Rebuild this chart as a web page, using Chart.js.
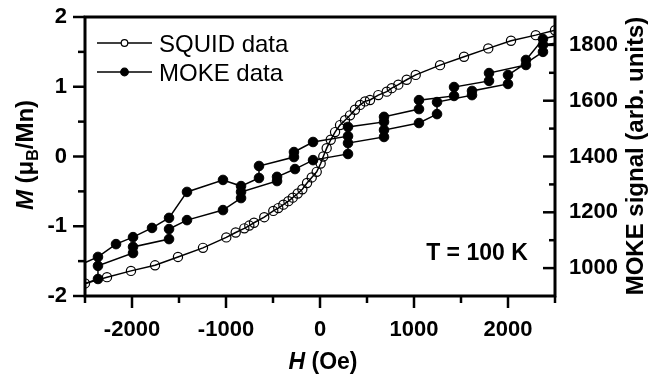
<!DOCTYPE html>
<html>
<head>
<meta charset="utf-8">
<script src="https://cdn.jsdelivr.net/npm/chart.js@4.4.1/dist/chart.umd.min.js"></script>
<style>
  html, body { margin: 0; padding: 0; background: #fff; }
  #wrap { width: 667px; height: 375px; }
</style>
</head>
<body>
<div id="wrap"><canvas id="chart" width="667" height="375"></canvas></div>
<script>
// SQUID magnetisation (left axis, muB/Mn)
const squidH = [-2500, -2266, -2011, -1755, -1511, -1245, -997, -897, -805, -752, -702, -593, -497, -444, -390, -336, -290, -237, -188, -138, -88, -35, 7, 35, 71, 114, 160, 213, 266, 319, 372, 426, 479, 532, 620, 710, 763, 833, 922, 1018, 1277, 1532, 1790, 2032, 2295, 2500];
const squidM = [-1.82, -1.73, -1.64, -1.56, -1.44, -1.31, -1.16, -1.09, -1.03, -0.99, -0.95, -0.87, -0.78, -0.74, -0.69, -0.64, -0.59, -0.53, -0.47, -0.38, -0.30, -0.22, -0.10, 0.00, 0.12, 0.24, 0.35, 0.45, 0.52, 0.59, 0.67, 0.74, 0.79, 0.81, 0.88, 0.93, 0.98, 1.03, 1.10, 1.17, 1.31, 1.43, 1.55, 1.66, 1.74, 1.81];

// MOKE loop (right axis), ascending branch then descending branch
const mokeH = [-2700, -2362, -2362, -1989, -1989, -1606, -1606, -1415, -1032, -840, -840, -457, -457, -266, -74, 298, 298, 681, 681, 1053, 1245, 1245, 1617, 1617, 2000, 2000, 2372, 2372, 2700,
               2700, 2372, 2191, 2191, 1798, 1798, 1426, 1426, 1053, 1053, 681, 681, 298, 298, -74, -277, -277, -649, -649, -840, -1032, -1415, -1606, -1787, -1989, -2170, -2362, -2700];
const mokeSignal = [920, 961, 1008, 1054, 1076, 1104, 1140, 1172, 1208, 1251, 1273, 1312, 1327, 1355, 1387, 1409, 1448, 1470, 1495, 1520, 1552, 1595, 1620, 1635, 1660, 1692, 1775, 1800, 1815,
                    1850, 1821, 1746, 1728, 1699, 1671, 1649, 1617, 1602, 1570, 1542, 1524, 1506, 1473, 1452, 1416, 1398, 1366, 1323, 1294, 1316, 1273, 1180, 1144, 1111, 1086, 1040, 990];

const xTicks = [-2000, -1000, 0, 1000, 2000];
const xMinorTicks = [-2500, -1500, -500, 500, 1500, 2500];
const mTicks = [-2, -1, 0, 1, 2];
const mMinorTicks = [-1.5, -0.5, 0.5, 1.5];
const signalTicks = [1000, 1200, 1400, 1600, 1800];
const signalMinorTicks = [1100, 1300, 1500, 1700];

const FONT = "'Liberation Sans', Arial, sans-serif";
const tickFont = { family: FONT, size: 22, weight: 'bold' };

function drawParts(ctx, parts, cx, baseline) {
  let w = 0;
  parts.forEach(p => { ctx.font = p.font; w += ctx.measureText(p.t).width; });
  let px = cx - w / 2;
  parts.forEach(p => {
    ctx.font = p.font;
    ctx.fillText(p.t, px, baseline + (p.dy || 0));
    px += ctx.measureText(p.t).width;
  });
}

// pin the plot box: no extra room for overflowing labels
function fixBox(size) {
  return s => {
    if (s.isHorizontal()) s.height = size; else s.width = size;
    s.paddingTop = 0; s.paddingBottom = 0; s.paddingLeft = 0; s.paddingRight = 0;
  };
}

const decorations = {
  id: 'decorations',
  afterDatasetsDraw(chart) {
    const { ctx, chartArea: a } = chart;
    const { x, y, y2 } = chart.scales;
    const seg = (x1, y1, x2, yy2) => { ctx.beginPath(); ctx.moveTo(x1, y1); ctx.lineTo(x2, yy2); ctx.stroke(); };
    ctx.save();
    ctx.strokeStyle = '#000';
    ctx.lineWidth = 2.5;
    xTicks.forEach(v => { const p = x.getPixelForValue(v); seg(p, a.bottom, p, a.bottom + 12); });
    xMinorTicks.forEach(v => { const p = x.getPixelForValue(v); seg(p, a.bottom, p, a.bottom + 7); });
    mTicks.forEach(v => { const p = y.getPixelForValue(v); seg(a.left - 12, p, a.left, p); });
    mMinorTicks.forEach(v => { const p = y.getPixelForValue(v); seg(a.left - 7, p, a.left, p); });
    signalTicks.forEach(v => { const p = y2.getPixelForValue(v); seg(a.right - 12, p, a.right, p); });
    signalMinorTicks.forEach(v => { const p = y2.getPixelForValue(v); seg(a.right - 6, p, a.right, p); });
    ctx.lineWidth = 3;
    ctx.strokeRect(a.left, a.top, a.right - a.left, a.bottom - a.top);
    ctx.restore();
  },
  afterDraw(chart) {
    const { ctx } = chart;
    ctx.save();
    ctx.fillStyle = '#000';
    ctx.textAlign = 'left';
    ctx.textBaseline = 'alphabetic';

    // x title
    drawParts(ctx, [
      { t: 'H', font: `italic bold 23px ${FONT}` },
      { t: ' (Oe)', font: `bold 23px ${FONT}` }
    ], 323, 369);

    // left title
    ctx.save();
    ctx.translate(24, 155);
    ctx.rotate(-Math.PI / 2);
    drawParts(ctx, [
      { t: 'M', font: `italic bold 24px ${FONT}` },
      { t: ' (\u03bc', font: `bold 24px ${FONT}` },
      { t: 'B', font: `bold 16px ${FONT}`, dy: 5 },
      { t: '/Mn)', font: `bold 24px ${FONT}` }
    ], 0, 8.5);
    ctx.restore();

    // right title
    ctx.save();
    ctx.translate(634, 156);
    ctx.rotate(-Math.PI / 2);
    drawParts(ctx, [{ t: 'MOKE signal (arb. units)', font: `bold 24px ${FONT}` }], 0, 8.5);
    ctx.restore();

    // temperature note
    drawParts(ctx, [{ t: 'T = 100 K', font: `bold 23px ${FONT}` }], 477, 260);

    // legend
    const rows = [{ yy: 43, ds: chart.data.datasets[0] }, { yy: 72, ds: chart.data.datasets[1] }];
    rows.forEach(r => {
      ctx.strokeStyle = '#000';
      ctx.lineWidth = 1.5;
      ctx.beginPath(); ctx.moveTo(97, r.yy); ctx.lineTo(152, r.yy); ctx.stroke();
      ctx.beginPath();
      ctx.arc(124.5, r.yy, r.ds.legendRadius, 0, Math.PI * 2);
      ctx.fillStyle = r.ds.legendFill;
      ctx.fill();
      ctx.lineWidth = 1.2;
      ctx.stroke();
      ctx.fillStyle = '#000';
      ctx.font = `24px ${FONT}`;
      ctx.fillText(r.ds.label, 159, r.yy + 8.6);
    });
    ctx.restore();
  }
};

new Chart(document.getElementById('chart'), {
  type: 'scatter',
  data: {
    datasets: [
      {
        label: 'SQUID data',
        data: squidH.map((h, i) => ({ x: h, y: squidM[i] })),
        yAxisID: 'y',
        showLine: true,
        borderColor: '#000',
        borderWidth: 1.5,
        pointRadius: 4.6,
        pointBorderWidth: 1.2,
        pointBorderColor: '#000',
        pointBackgroundColor: 'rgba(255,255,255,0)',
        legendRadius: 3.3,
        legendFill: '#fff'
      },
      {
        label: 'MOKE data',
        data: mokeH.map((h, i) => ({ x: h, y: mokeSignal[i] })),
        yAxisID: 'y2',
        showLine: true,
        borderColor: '#000',
        borderWidth: 1.5,
        pointRadius: 4.8,
        pointBorderWidth: 1,
        pointBorderColor: '#000',
        pointBackgroundColor: '#000',
        legendRadius: 3.8,
        legendFill: '#000'
      }
    ]
  },
  options: {
    responsive: false,
    animation: false,
    layout: { padding: { top: 17, left: 0, right: 0, bottom: 0 } },
    plugins: { legend: { display: false }, tooltip: { enabled: false } },
    scales: {
      x: {
        type: 'linear', position: 'bottom', min: -2500, max: 2500,
        afterBuildTicks: s => { s.ticks = xTicks.map(v => ({ value: v })); },
        afterFit: fixBox(79),
        grid: { display: false, drawTicks: false },
        border: { display: false },
        ticks: { font: tickFont, color: '#000', padding: 21, maxRotation: 0, autoSkip: false, callback: v => String(v) }
      },
      y: {
        type: 'linear', position: 'left', min: -2, max: 2,
        afterBuildTicks: s => { s.ticks = mTicks.map(v => ({ value: v })); },
        afterFit: fixBox(85),
        grid: { display: false, drawTicks: false },
        border: { display: false },
        ticks: { font: tickFont, color: '#000', padding: 18, autoSkip: false, callback: v => String(v) }
      },
      y2: {
        type: 'linear', position: 'right', min: 900, max: 1900,
        afterBuildTicks: s => { s.ticks = signalTicks.map(v => ({ value: v })); },
        afterFit: fixBox(112),
        grid: { display: false, drawTicks: false },
        border: { display: false },
        ticks: { font: tickFont, color: '#000', padding: 14, autoSkip: false, callback: v => String(v) }
      }
    }
  },
  plugins: [decorations]
});
</script>
</body>
</html>
